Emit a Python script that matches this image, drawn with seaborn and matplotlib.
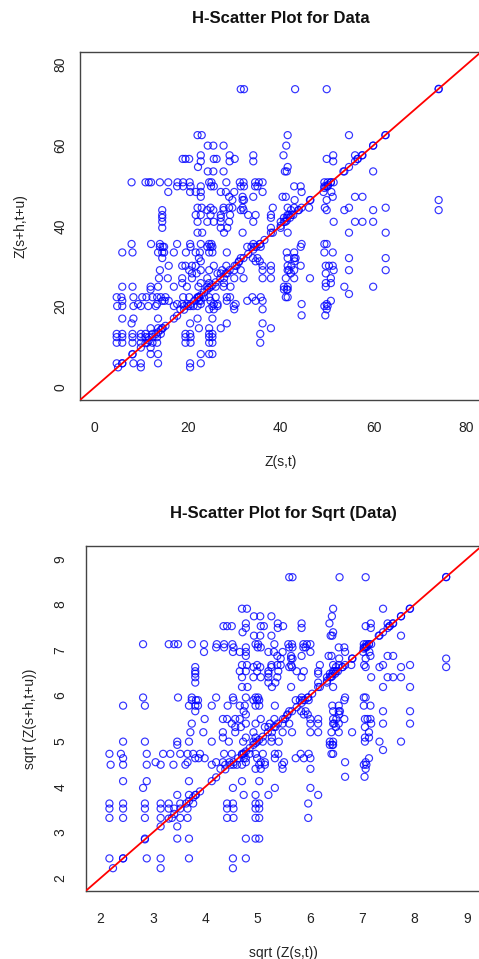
import numpy as np
import pandas as pd
import matplotlib
matplotlib.use("Agg")
import matplotlib.pyplot as plt
import seaborn as sns

# Z(s,t): tail values (x)
z_tail = [
    31.4, 32.1, 43.1, 49.9, 74.0,
    22.1, 23.0, 41.5, 54.7, 62.6,
    24.3, 25.5, 27.7, 41.2, 59.9,
    22.8, 29.0, 34.1, 40.6, 51.3, 56.0, 57.6,
    18.9, 19.5, 20.3, 25.6, 26.2, 30.1, 49.9, 56.5,
    22.8, 29.0, 34.1, 51.3, 56.0,
    22.2, 41.5, 54.7,
    24.3, 25.5, 27.7, 40.9, 41.3, 53.7, 59.9,
    7.9, 10.9, 11.6, 12.1, 14.0, 15.8, 17.8, 19.0, 20.4, 24.6, 25.1, 28.3, 31.2, 32.0, 34.5, 35.3, 36.1, 49.4, 50.1, 50.8, 51.4,
    17.7, 19.0, 20.6, 22.8, 25.0, 25.6, 31.4, 32.1, 34.5, 35.0, 42.9, 44.3, 49.4, 50.1,
    15.8, 20.5, 21.7, 22.8, 27.1, 28.2, 30.0, 36.1, 44.5, 49.2, 50.9,
    22.8, 28.9, 31.8, 34.1, 40.4, 41.1, 51.2, 56.0, 57.6,
    29.6, 31.8, 32.1, 43.0, 46.3, 49.9, 74.0,
    22.1, 23.0, 24.9, 27.7, 28.9, 29.6, 31.8, 38.3, 41.5, 42.9, 44.5, 46.1, 49.5, 54.7, 62.6,
    14.5, 24.2, 25.5, 27.7, 31.4, 32.0, 42.2, 43.8, 49.9, 53.7, 59.9, 74.0,
    14.5, 21.7, 22.8, 24.9, 27.1, 29.1, 33.0, 34.6, 37.9, 41.5, 41.8, 42.3,
    14.5, 27.1, 37.9, 40.7, 41.3,
    14.5, 22.1, 24.2, 25.6, 27.1, 28.9, 34.1, 40.0, 40.7, 51.4, 56.0, 57.6, 59.9,
    14.5, 27.1, 28.5, 37.9, 40.0,
    22.1, 23.1, 27.8, 31.8, 37.9, 41.5, 54.7, 62.6,
    7.9, 12.1, 14.0, 17.7, 20.5, 22.8, 24.6, 25.1, 34.1, 35.6, 44.5, 49.4, 49.9,
    14.0, 14.6, 14.9, 20.6, 24.2, 24.9, 25.3, 32.8, 33.7, 34.4, 35.7, 44.3,
    5.9, 8.1, 13.6, 14.5, 14.9, 17.0, 19.6, 21.7, 22.6, 24.6, 25.3, 28.4, 41.3, 42.9, 49.4, 51.2,
    14.5, 22.4, 31.4, 34.0, 35.0, 41.5, 42.9, 43.2, 54.7, 62.6,
    22.8, 31.0, 34.6, 35.5, 43.0,
    15.9, 18.8, 19.5, 20.9, 21.7, 25.6, 28.3, 30.5, 36.1, 37.9, 41.5, 42.3, 44.3, 49.7, 50.4, 51.2,
    14.0, 20.3, 22.8, 24.6, 27.4, 30.0, 31.4, 36.1, 37.9, 41.5, 41.8, 42.9, 51.4, 54.7, 62.6,
    20.9, 21.9, 26.4, 27.1, 28.5, 42.2, 49.7,
    13.8, 15.7, 18.8, 20.9, 24.2, 27.8, 30.0, 32.0, 36.1, 37.9, 41.1, 42.9, 46.3, 50.8,
    18.8, 22.8, 24.6, 27.8, 49.7, 50.8,
    5.9, 8.1, 12.0, 13.6, 17.0, 19.8, 22.3, 24.2, 26.0, 27.7, 29.2, 40.7, 41.5, 49.7, 53.7, 59.9,
    12.0, 40.7, 41.3, 41.5,
    54.7,
    4.7, 5.7, 8.3, 10.2, 11.1, 12.4, 13.4, 14.2, 15.2, 19.0, 20.3, 22.1, 22.4, 23.5, 24.6, 26.0, 28.4, 29.1, 33.9, 35.7, 41.1, 41.5,
    5.9, 14.5, 15.0, 15.9, 22.4, 22.8, 24.9, 28.4, 32.8, 34.6, 36.1, 50.8,
    9.3, 13.4, 17.7, 18.8, 19.9, 22.8, 25.6, 26.4, 30.3, 44.5, 49.9,
    4.8, 5.9, 8.3, 9.9, 11.5, 13.1, 17.0, 19.2, 20.6, 21.2, 22.1, 25.3, 26.4, 29.9, 49.4, 50.1,
    18.4, 24.6, 25.6, 30.0, 36.1, 49.9,
    44.5, 49.6,
    5.9, 8.3, 13.6, 17.0, 22.1, 25.3,
    7.9, 20.5, 28.4, 36.1,
    12.0, 13.6, 14.5, 22.4, 24.6, 27.1, 37.9,
    4.7, 5.9, 8.1, 9.9, 10.9, 12.4, 14.2, 19.5, 20.5, 24.6, 25.3, 35.6,
    4.7, 5.9, 8.1, 9.9, 10.9, 11.6, 13.4, 19.5, 20.6, 24.6, 25.3,
    4.7, 5.9, 8.1, 9.9, 11.3, 12.4, 13.4, 19.5, 20.6, 24.6, 25.3, 35.6,
    9.9, 12.0,
    8.1, 12.0, 13.6, 22.8, 24.6, 25.3,
    4.7, 5.9, 8.3, 9.9, 13.6, 20.5, 22.8,
    5.0, 9.9, 20.5,
]

# Z(s+h,t+u): head values (y), same order as z_tail
z_head = [
    73.9, 73.9, 73.9, 73.9, 73.9,
    62.5, 62.5, 62.5, 62.5, 62.5,
    59.9, 59.9, 59.9, 59.9, 59.9,
    57.5, 57.5, 57.5, 57.5, 57.5, 57.5, 57.5,
    56.6, 56.6, 56.6, 56.6, 56.6, 56.6, 56.6, 56.6,
    56.0, 56.0, 56.0, 56.0, 56.0,
    54.6, 54.6, 54.6,
    53.5, 53.5, 53.5, 53.5, 53.5, 53.5, 53.5,
    50.8, 50.8, 50.8, 50.8, 50.8, 50.8, 50.8, 50.8, 50.8, 50.8, 50.8, 50.8, 50.8, 50.8, 50.8, 50.8, 50.8, 50.8, 50.8, 50.8, 50.8,
    49.8, 49.8, 49.8, 49.8, 49.8, 49.8, 49.8, 49.8, 49.8, 49.8, 49.8, 49.8, 49.8, 49.8,
    48.4, 48.4, 48.4, 48.4, 48.4, 48.4, 48.4, 48.4, 48.4, 48.4, 48.4,
    47.2, 47.2, 47.2, 47.2, 47.2, 47.2, 47.2, 47.2, 47.2,
    46.4, 46.4, 46.4, 46.4, 46.4, 46.4, 46.4,
    44.5, 44.5, 44.5, 44.5, 44.5, 44.5, 44.5, 44.5, 44.5, 44.5, 44.5, 44.5, 44.5, 44.5, 44.5,
    43.9, 43.9, 43.9, 43.9, 43.9, 43.9, 43.9, 43.9, 43.9, 43.9, 43.9, 43.9,
    42.7, 42.7, 42.7, 42.7, 42.7, 42.7, 42.7, 42.7, 42.7, 42.7, 42.7, 42.7,
    42.0, 42.0, 42.0, 42.0, 42.0,
    41.0, 41.0, 41.0, 41.0, 41.0, 41.0, 41.0, 41.0, 41.0, 41.0, 41.0, 41.0, 41.0,
    39.5, 39.5, 39.5, 39.5, 39.5,
    38.3, 38.3, 38.3, 38.3, 38.3, 38.3, 38.3, 38.3,
    35.5, 35.5, 35.5, 35.5, 35.5, 35.5, 35.5, 35.5, 35.5, 35.5, 35.5, 35.5, 35.5,
    34.8, 34.8, 34.8, 34.8, 34.8, 34.8, 34.8, 34.8, 34.8, 34.8, 34.8, 34.8,
    33.4, 33.4, 33.4, 33.4, 33.4, 33.4, 33.4, 33.4, 33.4, 33.4, 33.4, 33.4, 33.4, 33.4, 33.4, 33.4,
    32.0, 32.0, 32.0, 32.0, 32.0, 32.0, 32.0, 32.0, 32.0, 32.0,
    31.2, 31.2, 31.2, 31.2, 31.2,
    30.1, 30.1, 30.1, 30.1, 30.1, 30.1, 30.1, 30.1, 30.1, 30.1, 30.1, 30.1, 30.1, 30.1, 30.1, 30.1,
    29.0, 29.0, 29.0, 29.0, 29.0, 29.0, 29.0, 29.0, 29.0, 29.0, 29.0, 29.0, 29.0, 29.0, 29.0,
    28.2, 28.2, 28.2, 28.2, 28.2, 28.2, 28.2,
    27.0, 27.0, 27.0, 27.0, 27.0, 27.0, 27.0, 27.0, 27.0, 27.0, 27.0, 27.0, 27.0, 27.0,
    25.8, 25.8, 25.8, 25.8, 25.8, 25.8,
    24.9, 24.9, 24.9, 24.9, 24.9, 24.9, 24.9, 24.9, 24.9, 24.9, 24.9, 24.9, 24.9, 24.9, 24.9, 24.9,
    24.2, 24.2, 24.2, 24.2,
    23.1,
    22.3, 22.3, 22.3, 22.3, 22.3, 22.3, 22.3, 22.3, 22.3, 22.3, 22.3, 22.3, 22.3, 22.3, 22.3, 22.3, 22.3, 22.3, 22.3, 22.3, 22.3, 22.3,
    21.4, 21.4, 21.4, 21.4, 21.4, 21.4, 21.4, 21.4, 21.4, 21.4, 21.4, 21.4,
    20.6, 20.6, 20.6, 20.6, 20.6, 20.6, 20.6, 20.6, 20.6, 20.6, 20.6,
    20.1, 20.1, 20.1, 20.1, 20.1, 20.1, 20.1, 20.1, 20.1, 20.1, 20.1, 20.1, 20.1, 20.1, 20.1, 20.1,
    19.3, 19.3, 19.3, 19.3, 19.3, 19.3,
    17.8, 17.8,
    17.0, 17.0, 17.0, 17.0, 17.0, 17.0,
    15.8, 15.8, 15.8, 15.8,
    14.6, 14.6, 14.6, 14.6, 14.6, 14.6, 14.6,
    13.2, 13.2, 13.2, 13.2, 13.2, 13.2, 13.2, 13.2, 13.2, 13.2, 13.2, 13.2,
    12.4, 12.4, 12.4, 12.4, 12.4, 12.4, 12.4, 12.4, 12.4, 12.4, 12.4,
    11.0, 11.0, 11.0, 11.0, 11.0, 11.0, 11.0, 11.0, 11.0, 11.0, 11.0, 11.0,
    9.8, 9.8,
    8.2, 8.2, 8.2, 8.2, 8.2, 8.2,
    5.9, 5.9, 5.9, 5.9, 5.9, 5.9, 5.9,
    4.9, 4.9, 4.9,
]

# pairs with equal values (points on the 1:1 line)
z_equal = [
    5.9, 8.1, 10.9, 11.6, 12.4, 13.2, 13.6, 14.2, 14.6, 15.2, 17.7, 19.2,
    20.1, 20.6, 21.4, 22.1, 22.4, 22.8, 23.5, 24.2, 24.6, 24.9, 25.3, 26.0,
    27.0, 28.2, 29.0, 30.1, 31.0, 32.0, 33.0, 34.1, 34.8, 35.5, 36.5, 38.3,
    40.0, 41.0, 41.3, 42.0, 42.7, 43.9, 46.4, 49.4, 49.8, 50.2, 50.8, 53.5,
    56.6, 57.5, 59.9, 62.5, 74.0,
]

titles = ["H-Scatter Plot for Data", "H-Scatter Plot for Sqrt (Data)"]
xlabels = ["Z(s,t)", "sqrt (Z(s,t))"]
ylabels = ["Z(s+h,t+u)", "sqrt (Z(s+h,t+u))"]
ticks_raw = [0, 20, 40, 60, 80]
ticks_sqrt = [2, 3, 4, 5, 6, 7, 8, 9]

n = min(len(z_tail), len(z_head))
df = pd.DataFrame({
    "tail": list(z_tail[:n]) + z_equal,
    "head": list(z_head[:n]) + z_equal,
})
df["sqrt_tail"] = np.sqrt(df["tail"])
df["sqrt_head"] = np.sqrt(df["head"])

sns.set_style("white")
plt.rcParams["font.family"] = ["Liberation Sans", "DejaVu Sans"]

fig = plt.figure(figsize=(4.79, 9.59), dpi=100)
ax1 = fig.add_axes([0.1670, 0.5829, 0.8380, 0.3632])
ax2 = fig.add_axes([0.1795, 0.0712, 0.8260, 0.3594])

edge = "#444444"
configs = [
    (ax1, "tail", "head", ticks_raw, (-3.2, 83.2), 3.2, -0.130),
    (ax2, "sqrt_tail", "sqrt_head", ticks_sqrt, (1.72, 9.28), 7.2, -0.125),
]
for i, (ax, xc, yc, tks, lim, ypad, ylab_x) in enumerate(configs):
    sns.scatterplot(data=df, x=xc, y=yc, ax=ax, marker="o", s=26,
                    facecolor="none", edgecolor="blue", linewidth=0.85,
                    alpha=0.8, legend=False, zorder=2)
    ax.axline((lim[0], lim[0]), slope=1, color="red", lw=1.3, zorder=3)
    ax.set_xlim(lim)
    ax.set_ylim(lim)
    ax.set_xticks(tks)
    ax.set_yticks(tks)
    ax.set_xticklabels([str(t) for t in tks])
    ax.set_yticklabels([str(t) for t in tks], rotation=90, va="center")
    for sp in ax.spines.values():
        sp.set_visible(True)
        sp.set_color(edge)
        sp.set_linewidth(1.0)
    ax.tick_params(axis="both", direction="out", length=6, width=0.9,
                   color=edge, labelsize=10, labelcolor="#222222")
    ax.tick_params(axis="x", pad=9)
    ax.tick_params(axis="y", pad=ypad)
    ax.set_title(titles[i], fontsize=12, fontweight="bold", pad=20.5,
                 color="#111111")
    ax.set_xlabel(xlabels[i], fontsize=10, color="#222222")
    ax.set_ylabel(ylabels[i], fontsize=10, color="#222222")
    ax.xaxis.set_label_coords(0.5, -0.158 if i == 0 else -0.160)
    ax.yaxis.set_label_coords(ylab_x, 0.5)

fig.savefig("out.png", dpi=100, facecolor="white")
